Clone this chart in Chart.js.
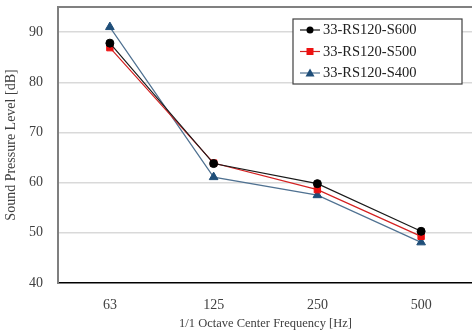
<!DOCTYPE html>
<html>
<head>
<meta charset="utf-8">
<script src="https://cdn.jsdelivr.net/npm/chart.js@4"></script>
<style>
  html, body { margin: 0; padding: 0; background: #fff; overflow: hidden; }
  #wrap { width: 479px; height: 336px; }
</style>
</head>
<body>
<div id="wrap"><canvas id="myChart"></canvas></div>
<script>
const frequencies = ["63", "125", "250", "500"];
const seriesNames = ["33-RS120-S600", "33-RS120-S500", "33-RS120-S400"];
const s600 = [87.8, 63.8, 59.8, 50.3];
const s500 = [86.9, 63.9, 58.6, 49.3];
const s400 = [91.0, 61.1, 57.5, 48.1];
const yTicks = [40, 50, 60, 70, 80, 90];

const serif = "'Liberation Serif', 'DejaVu Serif', serif";

// legend box drawn inside the plot, like the original
const boxLegend = {
  id: "boxLegend",
  afterDraw(chart) {
    const ctx = chart.ctx;
    const x = 293, y = 19, w = 169, h = 65;
    ctx.save();
    ctx.fillStyle = "#fff";
    ctx.fillRect(x, y, w, h);
    ctx.strokeStyle = "#404040";
    ctx.lineWidth = 1.2;
    ctx.strokeRect(x, y, w, h);
    ctx.font = "14.5px " + serif;
    ctx.textBaseline = "middle";
    chart.data.datasets.forEach((ds, i) => {
      const cy = y + 11 + i * 21.5;
      ctx.strokeStyle = ds.borderColor;
      ctx.lineWidth = 1.2;
      ctx.beginPath();
      ctx.moveTo(x + 7, cy);
      ctx.lineTo(x + 27, cy);
      ctx.stroke();
      ctx.fillStyle = ds.pointBackgroundColor;
      ctx.beginPath();
      if (ds.pointStyle === "circle") {
        ctx.arc(x + 17, cy, 3.5, 0, Math.PI * 2);
      } else if (ds.pointStyle === "rect") {
        ctx.rect(x + 13.5, cy - 3.5, 7, 7);
      } else {
        ctx.moveTo(x + 17, cy - 4.5);
        ctx.lineTo(x + 21.5, cy + 3.5);
        ctx.lineTo(x + 12.5, cy + 3.5);
        ctx.closePath();
      }
      ctx.fill();
      ctx.fillStyle = "#202020";
      ctx.fillText(ds.label, x + 30, cy + 0.5);
    });
    ctx.restore();
  }
};

new Chart(document.getElementById("myChart"), {
  type: "line",
  data: {
    labels: frequencies,
    datasets: [
      {
        label: seriesNames[0],
        data: s600,
        borderColor: "#1a1a1a",
        pointBackgroundColor: "#000",
        pointBorderColor: "#000",
        pointStyle: "circle",
        pointRadius: 4
      },
      {
        label: seriesNames[1],
        data: s500,
        borderColor: "#d42020",
        pointBackgroundColor: "#ee1111",
        pointBorderColor: "#ee1111",
        pointStyle: "rect",
        pointRadius: 4.5
      },
      {
        label: seriesNames[2],
        data: s400,
        borderColor: "#4f7191",
        pointBackgroundColor: "#1f4e79",
        pointBorderColor: "#1f4e79",
        pointStyle: "triangle",
        pointRadius: 5
      }
    ].map(d => Object.assign({ borderWidth: 1.2, tension: 0, fill: false, pointBorderWidth: 1 }, d))
  },
  options: {
    responsive: true,
    maintainAspectRatio: false,
    animation: false,
    layout: { padding: { top: 7, left: 0, right: 0, bottom: 0 } },
    plugins: { legend: { display: false }, tooltip: { enabled: false } },
    scales: {
      x: {
        offset: true,
        grid: { display: false },
        border: { display: true, color: "#000", width: 1.5 },
        ticks: { color: "#404040", font: { family: serif, size: 14 }, padding: 6 },
        title: {
          display: true,
          text: "1/1 Octave Center Frequency [Hz]",
          color: "#404040",
          font: { family: serif, size: 12.5 },
          padding: { top: 0, bottom: 5 }
        },
        afterFit(scale) {
          scale.height = 53;
          scale.paddingLeft = 0;
          scale.paddingRight = 0;
        }
      },
      y: {
        min: 40,
        max: 95,
        afterBuildTicks(scale) {
          scale.ticks = yTicks.map(v => ({ value: v })).concat([{ value: 95 }]);
        },
        ticks: {
          color: "#404040",
          font: { family: serif, size: 14 },
          padding: 15,
          callback: v => (v === 95 ? "" : v)
        },
        grid: {
          drawTicks: false,
          color: c => (c.tick.value === 95 ? "#808080" : c.tick.value === 40 ? "rgba(0,0,0,0)" : "#d9d9d9"),
          lineWidth: c => (c.tick.value === 95 ? 2 : 1.5)
        },
        border: { display: true, color: "#7f7f7f", width: 2 },
        title: {
          display: true,
          text: "Sound Pressure Level [dB]",
          color: "#404040",
          font: { family: serif, size: 14 },
          padding: { top: 3, bottom: 0 }
        },
        afterFit(scale) {
          scale.width = 58;
          scale.paddingTop = 0;
          scale.paddingBottom = 0;
        }
      }
    }
  },
  plugins: [boxLegend]
});
</script>
</body>
</html>
